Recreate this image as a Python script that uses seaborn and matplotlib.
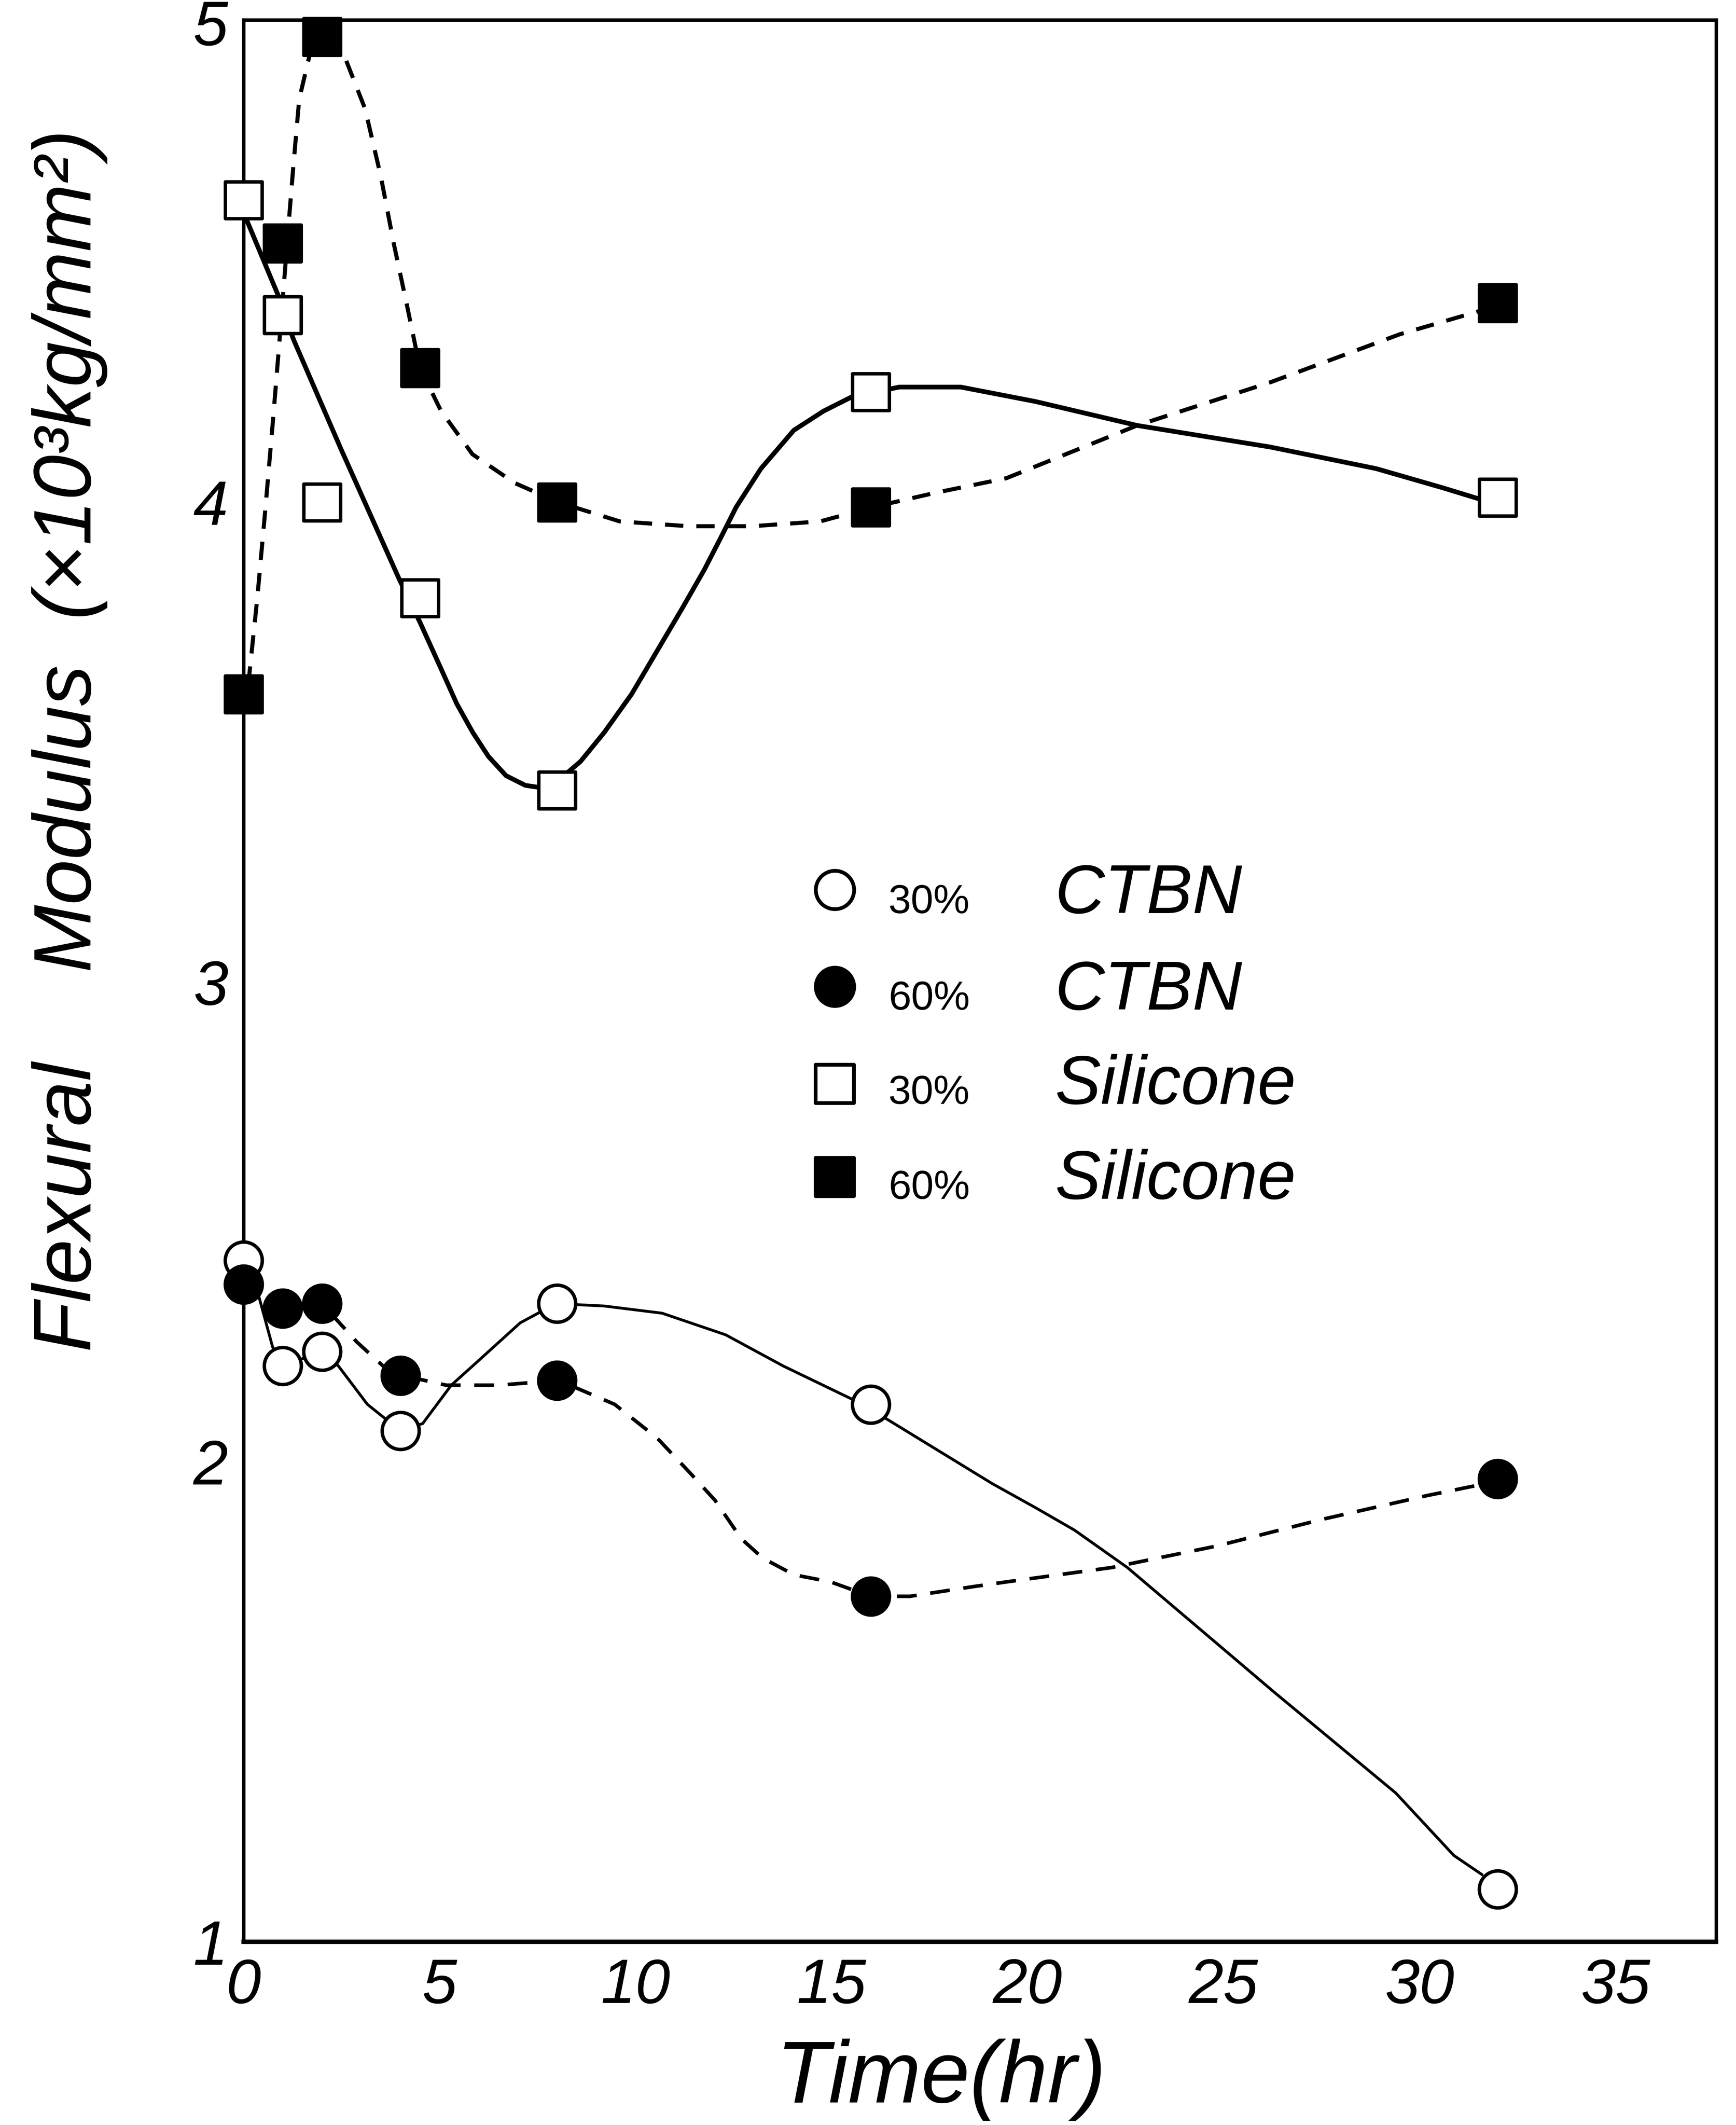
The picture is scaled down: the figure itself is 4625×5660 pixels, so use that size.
import matplotlib
matplotlib.use('Agg')
import matplotlib.pyplot as plt
import seaborn as sns

# measured points (time in hr, modulus in 10^3 kg/mm^2)
time_ctbn = [0, 1, 2, 4, 8, 16, 32]
ctbn_30 = [2.42, 2.20, 2.23, 2.065, 2.33, 2.12, 1.11]
ctbn_60 = [2.37, 2.32, 2.33, 2.18, 2.17, 1.72, 1.965]

time_sil = [0, 1, 2, 4.5, 8, 16, 32]
sil_30 = [4.63, 4.39, 4.00, 3.80, 3.40, 4.23, 4.01]
sil_60 = [3.60, 4.54, 4.97, 4.28, 4.00, 3.99, 4.415]

# hand drawn guide curves
sil30_curve_t = [0.07, 0.94, 1.27, 2.49, 3.97, 4.5, 5.0, 5.44, 5.85, 6.25, 6.7, 7.19, 7.6, 8.03,
                 8.6, 9.2, 9.9, 10.55, 11.2, 11.76, 12.2, 12.57, 13.2, 14.04, 14.8, 15.53,
                 16.73, 18.3, 20.2, 22.8, 26.2, 28.9, 30.6, 31.6]
sil30_curve_y = [4.59, 4.42, 4.34, 4.11, 3.84, 3.75, 3.66, 3.58, 3.52, 3.47, 3.43, 3.41, 3.405, 3.42,
                 3.46, 3.52, 3.60, 3.69, 3.78, 3.86, 3.93, 3.99, 4.07, 4.15, 4.19, 4.22,
                 4.24, 4.24, 4.21, 4.16, 4.115, 4.07, 4.03, 4.005]

sil60_curve_t = [0.12, 0.35, 0.55, 0.75, 0.95, 1.12, 1.27, 1.42, 1.68, 2.06, 2.62, 3.1, 3.5,
                 3.83, 4.17, 4.5, 5.04, 5.84, 6.92, 8.03, 9.6, 11.36, 12.97, 14.71, 16.06,
                 17.67, 19.46, 22.8, 26.2, 29.5, 31.6]
sil60_curve_y = [3.62, 3.80, 3.98, 4.17, 4.37, 4.55, 4.70, 4.84, 4.93, 4.97, 4.92, 4.82, 4.68,
                 4.54, 4.41, 4.28, 4.19, 4.10, 4.04, 4.00, 3.96, 3.95, 3.95, 3.96, 3.99,
                 4.02, 4.05, 4.16, 4.25, 4.35, 4.40]

ctbn30_curve_t = [0.04, 0.34, 0.74, 0.99, 1.99, 2.42, 3.16, 4.0, 4.57, 5.3, 5.98, 7.06, 7.97,
                  9.2, 10.68, 12.3, 13.77, 15.8, 17.0, 19.1, 20.2, 21.2, 22.55, 24.57, 26.3,
                  29.4, 30.88, 31.6]
ctbn30_curve_y = [2.42, 2.36, 2.24, 2.20, 2.23, 2.20, 2.12, 2.065, 2.08, 2.16, 2.21, 2.29, 2.33,
                  2.325, 2.31, 2.265, 2.20, 2.12, 2.06, 1.955, 1.905, 1.858, 1.78, 1.64, 1.52,
                  1.31, 1.18, 1.14]

ctbn60_curve_t = [0, 0.94, 2.0, 2.89, 3.56, 4.06, 5.17, 6.52, 8.04, 9.47, 10.55, 11.36, 12.03,
                  12.7, 13.24, 14.04, 14.98, 16.0, 17.0, 18.6, 19.46, 22.15, 24.84, 27.5,
                  30.2, 31.4]
ctbn60_curve_y = [2.37, 2.32, 2.33, 2.25, 2.20, 2.18, 2.16, 2.16, 2.17, 2.12, 2.05, 1.98, 1.92,
                  1.84, 1.80, 1.765, 1.75, 1.72, 1.72, 1.74, 1.75, 1.78, 1.825, 1.88,
                  1.93, 1.95]

legend_pct = ['30%', '60%', '30%', '60%']
legend_name = ['CTBN', 'CTBN', 'Silicone', 'Silicone']
xticks = [0, 5, 10, 15, 20, 25, 30, 35]
yticks = [1, 2, 3, 4, 5]

sns.set_style('white')
plt.rcParams['font.family'] = ['Liberation Sans', 'DejaVu Sans']
plt.rcParams['text.color'] = 'black'
plt.rcParams['axes.labelcolor'] = 'black'
plt.rcParams['xtick.color'] = 'black'
plt.rcParams['ytick.color'] = 'black'

fig = plt.figure(figsize=(4625 / 300, 5660 / 300), dpi=300)
ax = fig.add_axes([0.1403, 0.0862, 0.8482, 0.9044])

curves = [
    (sil30_curve_t, sil30_curve_y, '-', 3.0),
    (sil60_curve_t, sil60_curve_y, (0, (4.5, 3.2)), 2.6),
    (ctbn30_curve_t, ctbn30_curve_y, '-', 1.8),
    (ctbn60_curve_t, ctbn60_curve_y, (0, (5.5, 3.8)), 2.3),
]
for t, y, ls, lw in curves:
    sns.lineplot(x=t, y=y, ax=ax, color='black', lw=lw, linestyle=ls,
                 estimator=None, sort=False, zorder=2)

series = [
    (time_ctbn, ctbn_30, 'o', 'white'),
    (time_ctbn, ctbn_60, 'o', 'black'),
    (time_sil, sil_30, 's', 'white'),
    (time_sil, sil_60, 's', 'black'),
]
for t, y, m, fc in series:
    sns.scatterplot(x=t, y=y, ax=ax, marker=m, s=560, color=fc, edgecolor='black',
                    linewidth=2.2, zorder=5, clip_on=False)

# legend drawn as in the original: marker, percentage, material
leg_base = [0.5353, 0.485, 0.436, 0.3866]
leg_mark = [0.5474, 0.497, 0.4464, 0.3979]
for (t, y, m, fc), pct, name, yb, ym in zip(series, legend_pct, legend_name, leg_base, leg_mark):
    ax.scatter([0.4015], [ym], transform=ax.transAxes, marker=m, s=600, color=fc,
               edgecolor='black', linewidth=2.4, zorder=6)
    ax.text(0.438, yb, pct, transform=ax.transAxes, fontsize=26, va='baseline', ha='left')
    ax.text(0.551, yb, name, transform=ax.transAxes, fontsize=44, style='italic',
            va='baseline', ha='left')

ax.set_xlim(0, 37.57)
ax.set_ylim(1, 5.005)
ax.set_xticks(xticks)
ax.set_yticks(yticks)
ax.tick_params(direction='in', length=19, width=2.4, labelsize=40, pad=10, colors='black')
for lab in ax.get_xticklabels() + ax.get_yticklabels():
    lab.set_style('italic')

for side in ['top', 'right', 'left']:
    ax.spines[side].set_linewidth(2.2)
    ax.spines[side].set_color('black')
ax.spines['bottom'].set_linewidth(2.8)
ax.spines['bottom'].set_color('black')

ax.set_xlabel('Time(hr)', fontsize=56, style='italic')
ax.xaxis.set_label_coords(0.4736, -0.0836)
ax.xaxis.label.set_va('baseline')

ax.set_ylabel('Flexural    Modulus  (×10³kg/mm²)', fontsize=52, style='italic')
ax.yaxis.set_label_coords(-0.1037, 0.625)
ax.yaxis.label.set_va('baseline')

fig.savefig('out.png', dpi=300)
